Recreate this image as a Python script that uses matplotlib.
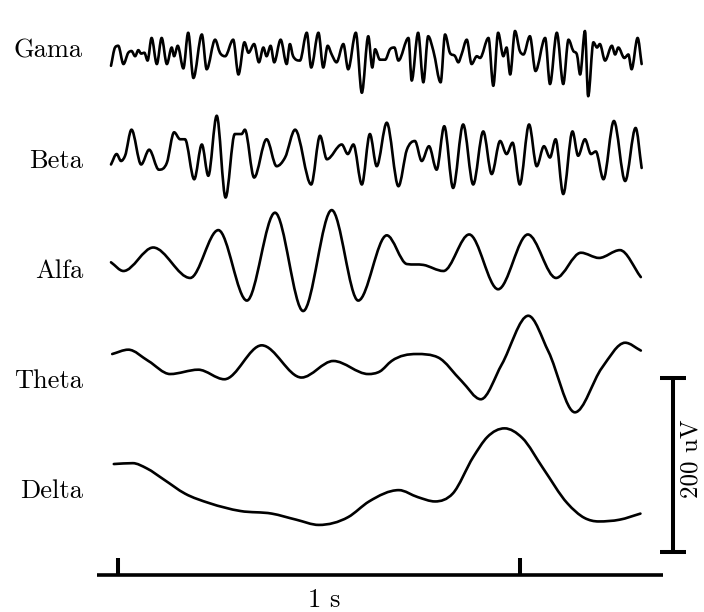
import numpy as np
import matplotlib.pyplot as plt
from matplotlib.path import Path
from matplotlib.patches import PathPatch

plt.rcParams['font.family'] = 'cmr10'
plt.rcParams['mathtext.fontset'] = 'cm'
plt.rcParams['axes.formatter.use_mathtext'] = True

# band names, top to bottom
bands = ['Gama', 'Beta', 'Alfa', 'Theta', 'Delta']

# time (s) and amplitude (uV)
gama_t = [0.000, 0.010, 0.018, 0.031, 0.043, 0.051, 0.060, 0.068, 0.075, 0.083,
          0.091, 0.101, 0.114, 0.126, 0.139, 0.151, 0.157, 0.166, 0.180, 0.192,
          0.205, 0.226, 0.238, 0.259, 0.271, 0.284, 0.304, 0.317, 0.332, 0.342,
          0.356, 0.368, 0.379, 0.387, 0.397, 0.406, 0.422, 0.437, 0.445, 0.453,
          0.470, 0.487, 0.498, 0.516, 0.528, 0.539, 0.549, 0.561, 0.578, 0.590,
          0.609, 0.624, 0.640, 0.650, 0.657, 0.669, 0.682, 0.694, 0.705, 0.715,
          0.740, 0.748, 0.764, 0.777, 0.789, 0.802, 0.820, 0.831, 0.843, 0.856,
          0.864, 0.872, 0.885, 0.897, 0.910, 0.918, 0.939, 0.951, 0.963, 0.976,
          0.984, 0.993, 1.005, 1.017, 1.026, 1.042, 1.056, 1.080, 1.092, 1.109,
          1.125, 1.138, 1.150, 1.159, 1.167, 1.179, 1.187, 1.200, 1.209, 1.216,
          1.229, 1.246, 1.254, 1.262, 1.277, 1.287, 1.295, 1.310, 1.320]
gama_uv = [-17, 4, 6, -15, -2, 0, -6, 1, -3, -2,
           -11, 15, -15, 15, -15, 4, -6, 6, -20, 21,
           -31, 19, -21, 13, -2, -6, 13, -27, 10, -2,
           8, -13, 4, -6, 6, -13, 13, -15, 8, -6,
           -11, 21, -19, 21, -19, 6, -4, -13, 8, -21,
           21, -48, 17, -19, 2, -10, -10, 2, 4, -11,
           15, -34, 21, -36, 17, 0, -36, 19, -2, -6,
           -13, -4, 13, -15, -6, -8, 15, -40, 21, -6,
           4, -27, 23, 0, -4, 17, -23, 15, -38, 21,
           -38, 13, 0, -4, -27, 23, -52, 10, 4, 8,
           -11, 6, -4, 4, -8, -4, -21, 15, -15]

beta_t = [0.000, 0.014, 0.025, 0.035, 0.051, 0.075, 0.095, 0.119, 0.139, 0.157,
          0.172, 0.184, 0.207, 0.226, 0.242, 0.263, 0.285, 0.308, 0.325, 0.333,
          0.356, 0.387, 0.412, 0.433, 0.458, 0.498, 0.520, 0.537, 0.574, 0.589,
          0.603, 0.624, 0.644, 0.661, 0.686, 0.715, 0.736, 0.756, 0.773, 0.791,
          0.810, 0.829, 0.851, 0.876, 0.901, 0.926, 0.947, 0.968, 0.984, 0.999,
          1.017, 1.040, 1.059, 1.077, 1.092, 1.106, 1.125, 1.148, 1.162, 1.179,
          1.194, 1.206, 1.225, 1.251, 1.279, 1.305, 1.320]
beta_uv = [-4, 8, 0, 6, 36, -4, 13, -10, -2, 33,
           25, 25, -21, 19, -17, 52, -42, 31, 31, 36,
           -19, 25, -6, 4, 36, -27, 29, 2, 19, 8,
           19, -27, 31, -6, 44, -29, 13, 23, 0, 17,
           -10, 40, -31, 42, -27, 34, -15, 23, 8, 21,
           -27, 42, -6, 17, 4, 25, -38, 34, 6, 25,
           8, 11, -21, 46, -23, 38, -8]

alfa_t = [0.000, 0.031, 0.105, 0.197, 0.267, 0.338, 0.408, 0.478, 0.549, 0.615,
          0.686, 0.736, 0.777, 0.827, 0.891, 0.963, 1.037, 1.107, 1.169, 1.214,
          1.266, 1.318]
alfa_uv = [10, 0, 27, -8, 47, -34, 67, -46, 70, -34,
           41, 8, 7, 0, 42, -21, 42, -8, 21, 15,
           24, -7]

theta_t = [0.003, 0.043, 0.093, 0.147, 0.217, 0.282, 0.375, 0.474, 0.553, 0.640,
           0.669, 0.698, 0.760, 0.814, 0.872, 0.920, 0.972, 1.038, 1.088, 1.154,
           1.221, 1.279, 1.318]
theta_uv = [31, 36, 23, 8, 13, 2, 41, 4, 23, 8,
            11, 23, 31, 27, 0, -21, 19, 75, 34, -36,
            15, 44, 35]

delta_t = [0.007, 0.054, 0.089, 0.132, 0.184, 0.245, 0.322, 0.400, 0.461, 0.517,
           0.590, 0.642, 0.716, 0.763, 0.806, 0.850, 0.901, 0.936, 0.979, 1.023,
           1.075, 1.135, 1.178, 1.213, 1.265, 1.317]
delta_uv = [31, 32, 26, 13, -3, -14, -23, -26, -33, -39,
            -30, -12, 1, -7, -12, -3, 39, 62, 72, 61,
            26, -14, -31, -35, -33, -26]

series = [(gama_t, gama_uv), (beta_t, beta_uv), (alfa_t, alfa_uv),
          (theta_t, theta_uv), (delta_t, delta_uv)]


def smooth_path(t, v):
    # cubic through the read points (flat at peaks), drawn as bezier segments
    t = np.asarray(t, float)
    v = np.asarray(v, float)
    h = np.diff(t)
    d = np.diff(v) / h
    m = np.zeros_like(v)
    m[0], m[-1] = d[0], d[-1]
    for i in range(1, len(v) - 1):
        if d[i - 1] * d[i] > 0:
            m[i] = (d[i - 1] * h[i] + d[i] * h[i - 1]) / (h[i] + h[i - 1])
            lim = 3 * min(abs(d[i - 1]), abs(d[i]))
            m[i] = np.sign(m[i]) * min(abs(m[i]), lim)
    verts = [(t[0], v[0])]
    codes = [Path.MOVETO]
    for i in range(len(h)):
        verts += [(t[i] + h[i] / 3, v[i] + m[i] * h[i] / 3),
                  (t[i + 1] - h[i] / 3, v[i + 1] - m[i + 1] * h[i] / 3),
                  (t[i + 1], v[i + 1])]
        codes += [Path.CURVE4] * 3
    return Path(verts, codes)


px_s = 402.0          # pixels per second
px_uv = 174.0 / 200   # pixels per uV
fig = plt.figure(figsize=(7.04, 6.12), dpi=100)
ax = fig.add_axes([0, 0, 1, 1])
ax.set_xlim(-111 / px_s, (704 - 111) / px_s)
ax.set_ylim(0, 612 / px_uv)
ax.axis('off')

step = 110 / px_uv
base = 121 / px_uv
for i, (name, (t, v)) in enumerate(zip(bands, series)):
    off = base + step * (4 - i)
    p = smooth_path(t, np.asarray(v) + off)
    ax.add_patch(PathPatch(p, fill=False, lw=1.9, ec='black',
                           joinstyle='round', capstyle='round'))
    ax.text(-0.07, off, name, ha='right', va='center', fontsize=19)

# time scale bar
y_ax = 37 / px_uv
ax.plot([-0.035, 1.373], [y_ax, y_ax], color='black', lw=2.6,
        solid_capstyle='butt')
for tk in [0.017, 1.017]:
    ax.plot([tk, tk], [y_ax, y_ax + 20], color='black', lw=2.9,
            solid_capstyle='butt')
ax.text(0.530, 12 / px_uv, '1 s', ha='center', va='center', fontsize=19)

# amplitude scale bar
xb = 1.398
y0 = 60 / px_uv
ax.plot([xb, xb], [y0, y0 + 200], color='black', lw=2.9, solid_capstyle='butt')
for yy in [y0, y0 + 200]:
    ax.plot([xb - 0.032, xb + 0.032], [yy, yy], color='black', lw=2.9,
            solid_capstyle='butt')
ax.text(1.458, y0 + 107, '200 uV', ha='center', va='baseline', rotation=90,
        fontsize=18, rotation_mode='anchor')

fig.savefig('out.png', dpi=100)
